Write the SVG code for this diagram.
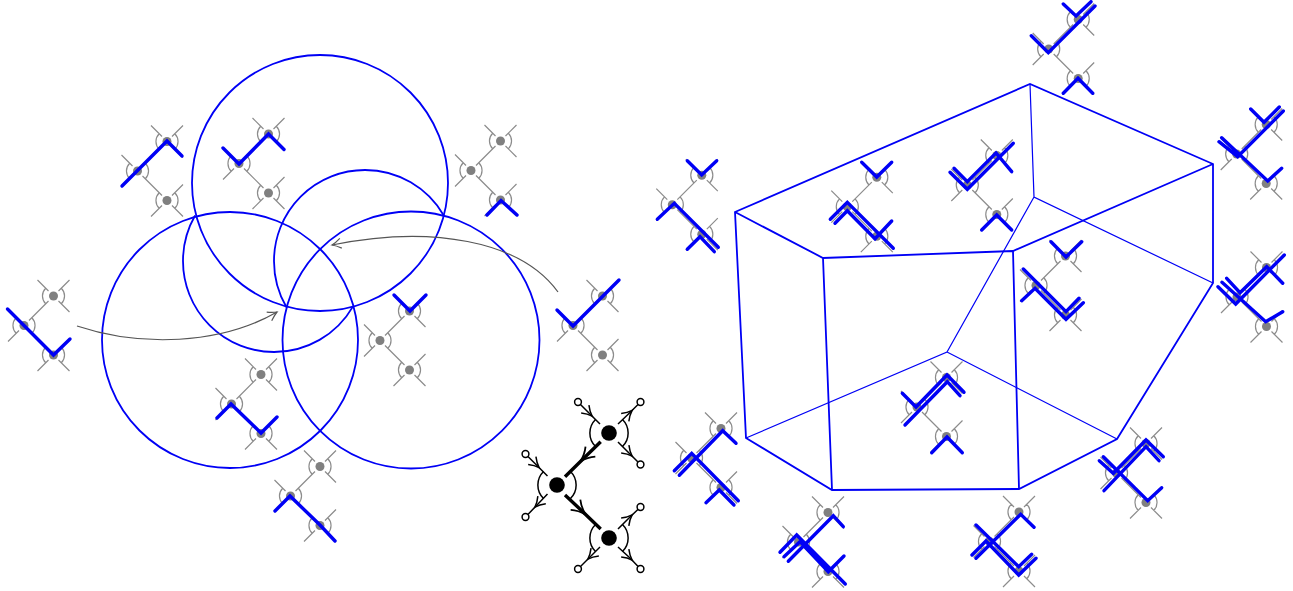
<svg xmlns="http://www.w3.org/2000/svg" width="1293" height="591" viewBox="0 0 1293 591">
<style>
.g{fill:none;stroke:#8c8c8c;stroke-width:1.2}
.d{fill:#808080;stroke:none}
.b{fill:none;stroke:#0000f5;stroke-width:3.4;stroke-linecap:round;stroke-linejoin:miter}
.c{fill:none;stroke:#0000f5;stroke-width:1.8}
.t{fill:none;stroke:#0000f5;stroke-width:1.2}
.a{fill:none;stroke:#555;stroke-width:1.2}
.k{fill:none;stroke:#000;stroke-width:1.5}
.kk{fill:none;stroke:#000;stroke-width:3.4}
.o{fill:#fff;stroke:#000;stroke-width:1.5}
</style>
<defs>
<marker id="ah" markerUnits="userSpaceOnUse" markerWidth="20" markerHeight="20" refX="10" refY="10" orient="auto" overflow="visible"><path d="M1 5Q6 8.5 10 10Q6 11.5 1 15" fill="none" stroke="#555" stroke-width="1.2"/></marker>
<marker id="mk" markerUnits="userSpaceOnUse" markerWidth="20" markerHeight="20" refX="10" refY="10" orient="auto" overflow="visible"><path d="M3 4.5Q8 8.5 13 10Q8 11.5 3 15.5" fill="none" stroke="#000" stroke-width="1.5"/></marker>
<marker id="ml" markerUnits="userSpaceOnUse" markerWidth="20" markerHeight="20" refX="10" refY="10" orient="auto" overflow="visible"><path d="M1 3Q7 8 15 10Q7 12 1 17" fill="none" stroke="#000" stroke-width="1.8"/></marker>
<g id="L"><path class="g" d="M-5 -5L-16 -16M-5 5L-16 16M-7.8 -7.8A11 11 0 0 0 -7.8 7.8M7.8 -7.8A11 11 0 0 1 7.8 7.8"/><circle class="d" r="4.5"/></g>
<g id="T"><path class="g" d="M-5 -5L-16 -16M5 -5L16 -16M5 5L16 16M-7.8 -7.8A11 11 0 0 0 -7.8 7.8M7.8 -7.8A11 11 0 0 1 7.8 7.8"/><circle class="d" r="4.5"/></g>
<g id="B"><path class="g" d="M-5 5L-16 16M5 5L16 16M5 -5L16 -16M-7.8 -7.8A11 11 0 0 0 -7.8 7.8M7.8 -7.8A11 11 0 0 1 7.8 7.8"/><circle class="d" r="4.5"/></g>
<g id="m"><path class="g" d="M5 -5L24.5 -24.5M5 5L24.5 24.5"/><use href="#L"/><use href="#T" x="29.5" y="-29.5"/><use href="#B" x="29.5" y="29.5"/></g>
</defs>

<g id="regions">
<circle class="c" cx="320" cy="183" r="128"/>
<circle class="c" cx="230" cy="340" r="128"/>
<circle class="c" cx="411" cy="340" r="128.5"/>
<path class="c" d="M286.5 307.2A91 91 0 0 1 274 261A91 91 0 0 1 365 170A91 91 0 0 1 444.1 216"/>
<path class="c" d="M195.1 215.5A91 91 0 0 0 183 261A91 91 0 0 0 274 352A91 91 0 0 0 352.9 306.6"/>
</g>

<g id="voronoi">
<path class="c" d="M735 212L1030 84L1213 164L1213 283L1117 439L1019 489L832 490L746 438Z"/>
<path class="c" d="M735 212L823 258L1013 251L1213 164M823 258L832 490M1013 251L1019 489"/>
<path class="t" d="M1030 84L1034 197L1213 283M1034 197L947 352L746 438M947 352L1117 439"/>
</g>

<g id="connectors">
<path class="a" marker-end="url(#ah)" d="M77 326C140 347 220 345 277 312"/>
<path class="a" marker-end="url(#ah)" d="M558 292C520 240 430 225 332 245"/>
</g>

<g id="n1"><use href="#m" x="24" y="325.5"/><path class="b" d="M7.5 309L53.5 355L70 339"/></g>
<g id="n2"><use href="#m" x="137.5" y="171"/><path class="b" d="M122 186L167 141L182 156"/></g>
<g id="n3"><use href="#m" x="239" y="163.5"/><path class="b" d="M223 148L239 164L268.5 134L284 149.5"/></g>
<g id="n4"><use href="#m" x="471" y="170.5"/><path class="b" d="M487 215L501 200.5L517 215"/></g>
<g id="n5"><use href="#m" x="380" y="340.5"/><path class="b" d="M394 295L410 311L426 295"/></g>
<g id="n6"><use href="#m" x="231.5" y="404"/><path class="b" d="M217 418L231 404L261 433L277 417"/></g>
<g id="n7"><use href="#m" x="290.5" y="496"/><path class="b" d="M275 511L290 496L320 525L335 541"/></g>
<g id="n8"><use href="#m" x="573" y="325.5"/><path class="b" d="M557 310L573 326L619 280"/></g>

<g id="n9"><use href="#m" x="1048.7" y="49"/><path class="b" d="M1031.3 35.7L1048.3 52.7L1095 6M1063.3 4L1076 16L1091 1.7M1063.3 93.3L1078 78.3L1092.7 93.3"/></g>
<g id="n10"><use href="#m" x="672.3" y="204.7"/><path class="b" d="M687.3 160.7L701.7 175L716.7 160.7M657.3 219.3L674.3 203.3L718.3 247.3M687.3 249.3L700 236.7L714.3 251.7"/></g>
<g id="n11"><use href="#m" x="847.3" y="206.7"/><path class="b" d="M861.7 162.3L876.7 177L891.7 162.3M830.3 219.3L847.3 202.3L893.3 248.3M835 223.3L847.3 210.7L875 238.7L891.7 221"/></g>
<g id="n12"><use href="#m" x="967.3" y="185"/><path class="b" d="M950 172.3L967.3 189.3L1013.3 143.3M954 168.3L967.3 181.7L996 153L1011.7 171.7M981.7 230L996.7 215L1011.7 230"/></g>
<g id="n13"><use href="#m" x="1036" y="285.5"/><path class="b" d="M1051 241.7L1066 257L1081.7 241.7M1023.3 269L1066 311.7L1079 298.3M1021.7 300.7L1035 288.3L1066 319.3L1083.3 302.7"/></g>
<g id="n14"><use href="#m" x="917" y="407"/><path class="b" d="M902.3 393.3L916 407L947 375L964 392.3M905 425L947.3 381.7L960 395.7M931.7 452.7L947 437L962.3 452.7"/></g>
<g id="n15"><use href="#m" x="691.5" y="458"/><path class="b" d="M674.3 470.7L691.7 453.3L738.3 500.7M679.3 475.3L722.7 430.7L736 443.3M706 502.7L719.3 490L734 505"/></g>
<g id="n16"><use href="#m" x="798.5" y="542"/><path class="b" d="M780 552.3L796.7 535L845.3 584M784 556.7L800 541.7L828.3 571.7L844 556M788.3 561.3L833.3 515.7L843.3 526.7"/></g>
<g id="n17"><use href="#m" x="989.5" y="541.5"/><path class="b" d="M976 525L1018.7 566.7L1031.7 554.3M976 558.3L1020.7 514.3L1034 527.3M972 555L986 541L1018.7 575L1036 558.3"/></g>
<g id="n18"><use href="#m" x="1116.5" y="473"/><path class="b" d="M1104 490.7L1146 446.7L1159 460.7M1099.3 460.7L1113.3 473.3L1146 440L1163.3 456.7M1103.3 456.7L1147.7 500.7L1161.7 487.7"/></g>
<g id="n19"><use href="#m" x="1236.7" y="154"/><path class="b" d="M1250.7 109L1264 122.3L1279.3 107M1221.7 137.7L1267.7 181L1281.7 168.3M1219 141.7L1237.7 156.7L1283.3 111"/></g>
<g id="n20"><use href="#m" x="1237" y="297"/><path class="b" d="M1226.7 278.3L1240 292.7L1266.7 266.7L1282.7 283.3M1218 286.7L1235.7 304L1284.3 255M1222 282.3L1265.7 321.7L1282.7 311.7"/></g>

<g id="legend-edges">
<path class="kk" marker-mid="url(#ml)" d="M600.7 441.7L584 458L565 476.7"/>
<path class="kk" marker-mid="url(#ml)" d="M565 495L582 511L600.7 529"/>
<path class="k" marker-mid="url(#mk)" d="M578 402L590 414L600 424"/>
<path class="k" marker-mid="url(#mk)" d="M618 424L630 412.5L640.5 402"/>
<path class="k" marker-mid="url(#mk)" d="M618 442L630 454L640.5 464.5"/>
<path class="k" marker-mid="url(#mk)" d="M525.5 454L537 465.5L547.5 476"/>
<path class="k" marker-mid="url(#mk)" d="M547.5 494L537 505L525.5 517"/>
<path class="k" marker-mid="url(#mk)" d="M618 529L630 517L640.5 507"/>
<path class="k" marker-mid="url(#mk)" d="M600 547L590 557L578 569"/>
<path class="k" marker-mid="url(#mk)" d="M618 547L630 558L640.5 569"/>
</g>
<g id="legend-top"><circle cx="609" cy="433" r="7.8"/><path class="k" d="M595.5 419.5A19 19 0 0 0 595.5 446.5M622.5 419.5A19 19 0 0 1 622.5 446.5"/><circle class="o" cx="578" cy="402" r="3.4"/><circle class="o" cx="640.5" cy="402" r="3.4"/><circle class="o" cx="640.5" cy="464.5" r="3.4"/></g>
<g id="legend-left"><circle cx="557" cy="485" r="7.8"/><path class="k" d="M543.5 471.5A19 19 0 0 0 543.5 498.5M570.5 471.5A19 19 0 0 1 570.5 498.5"/><circle class="o" cx="525.5" cy="454" r="3.4"/><circle class="o" cx="525.5" cy="517" r="3.4"/></g>
<g id="legend-bottom"><circle cx="609" cy="538" r="7.8"/><path class="k" d="M595.5 524.5A19 19 0 0 0 595.5 551.5M622.5 524.5A19 19 0 0 1 622.5 551.5"/><circle class="o" cx="640.5" cy="507" r="3.4"/><circle class="o" cx="578" cy="569" r="3.4"/><circle class="o" cx="640.5" cy="569" r="3.4"/></g>
</svg>
